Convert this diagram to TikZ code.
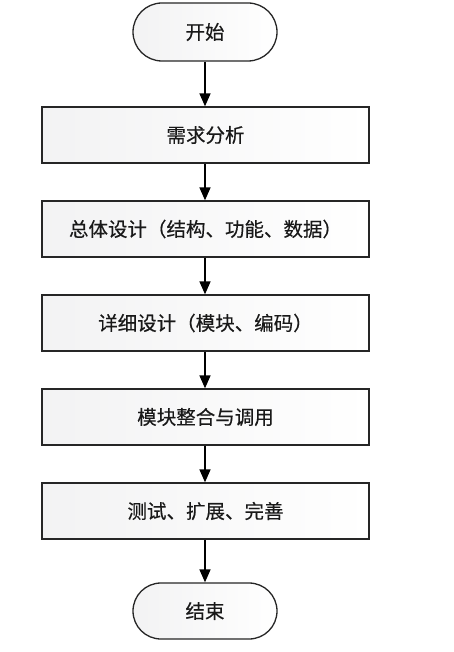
\documentclass[tikz,border=0pt]{standalone}
\usepackage{fontspec}
\newfontfamily\cjk[FakeBold=0.3]{Noto Sans CJK SC}
\usetikzlibrary{arrows.meta,shapes.misc}
\begin{document}
\begin{tikzpicture}[x=1pt,y=-1pt,
  every node/.style={font=\cjk\fontsize{19.5}{22}\selectfont, text=black!90},
  procbox/.style={draw=black!85, line width=1.3pt, minimum width=327pt, minimum height=56pt, inner sep=0pt, left color=blue!7!black!5!white, right color=white, shading angle=90},
  termbox/.style={draw=black!85, line width=1.3pt, rounded rectangle, minimum width=144pt, minimum height=58pt, inner sep=0pt, left color=blue!7!black!5!white, right color=white},
  flow/.style={line width=1.5pt, -{Triangle[length=13pt,width=11pt]}}]
\useasboundingbox (0,0) rectangle (454,652);
\node[termbox, minimum height=58pt] (start) at (205,32) {开始};
\node[procbox] (b1) at (205.5,135) {需求分析};
\node[procbox] (b2) at (205.5,229) {总体设计（结构、功能、数据）};
\node[procbox] (b3) at (205.5,323) {详细设计（模块、编码）};
\node[procbox] (b4) at (205.5,417) {模块整合与调用};
\node[procbox] (b5) at (205.5,511) {测试、扩展、完善};
\node[termbox, minimum height=56pt] (end) at (205,611) {结束};
\draw[flow] (start.south) -- (start.south |- b1.north);
\draw[flow] (b1.south -| start.south) -- (start.south |- b2.north);
\draw[flow] (b2.south -| start.south) -- (start.south |- b3.north);
\draw[flow] (b3.south -| start.south) -- (start.south |- b4.north);
\draw[flow] (b4.south -| start.south) -- (start.south |- b5.north);
\draw[flow] (b5.south -| start.south) -- (end.north);
\end{tikzpicture}
\end{document}
